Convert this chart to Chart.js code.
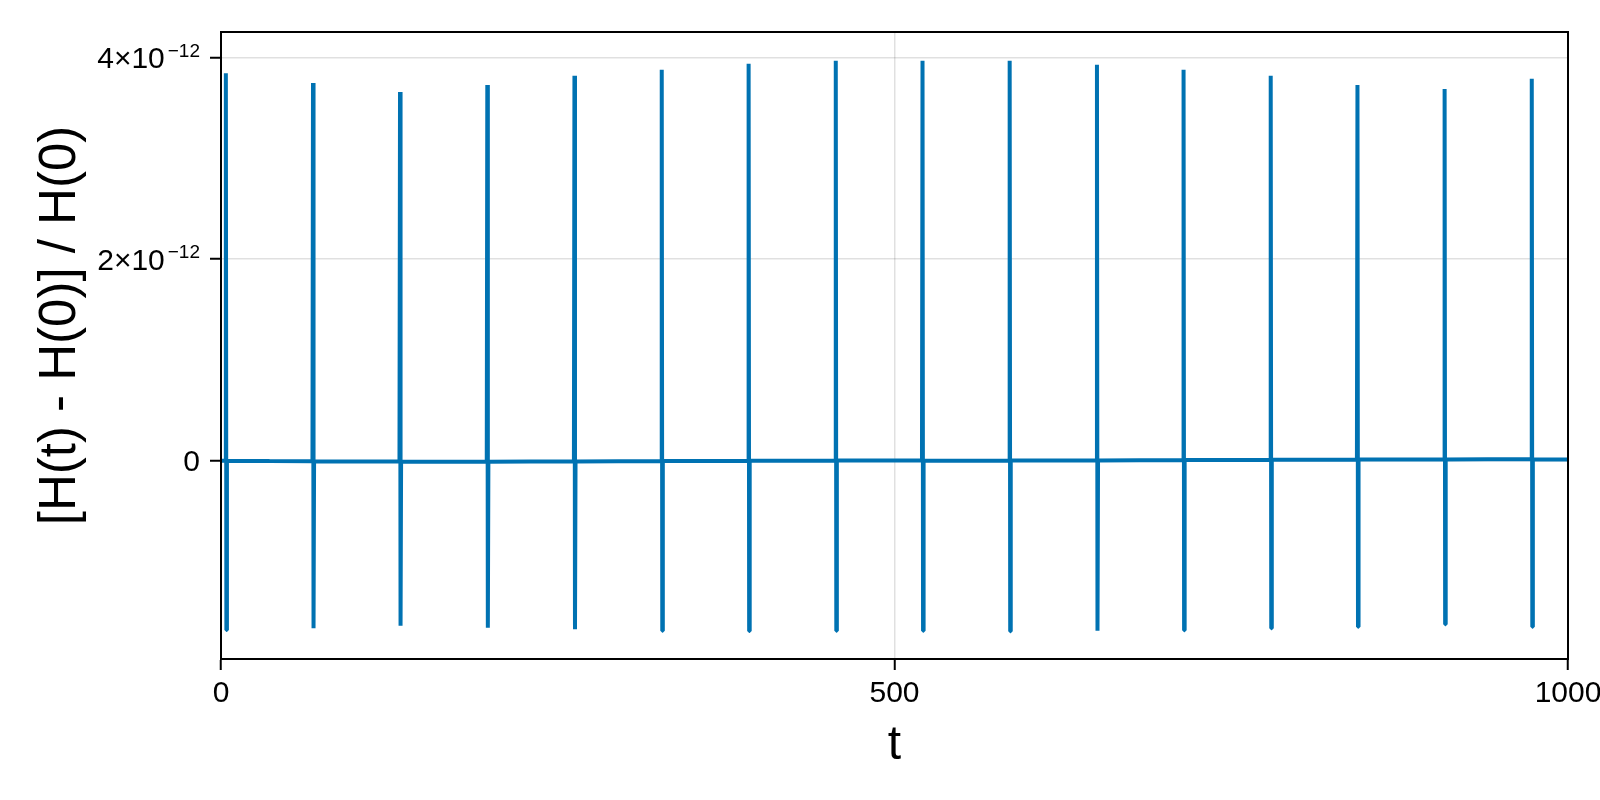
<!DOCTYPE html>
<html>
<head>
<meta charset="utf-8">
<script src="https://cdn.jsdelivr.net/npm/chart.js@4"></script>
<style>
  html, body { margin: 0; padding: 0; background: #ffffff; }
  #wrap { width: 1600px; height: 800px; }
</style>
</head>
<body>
<div id="wrap"><canvas id="c" width="1600" height="800"></canvas></div>
<script>
// ---- data (values in units of 1e-12) ----
const SCALE = 1e-12;
const spikeT      = [3.6, 68.3, 132.9, 197.7, 262.4, 327.2, 391.7, 456.4, 520.8, 585.5, 650.3, 714.6, 779.3, 843.7, 908.4, 973.1];
const spikePeak   = [3.845, 3.75, 3.66, 3.73, 3.82, 3.88, 3.94, 3.97, 3.97, 3.97, 3.93, 3.88, 3.82, 3.73, 3.69, 3.79];
const spikeTrough = [-1.680, -1.663, -1.637, -1.657, -1.673, -1.687, -1.690, -1.687, -1.687, -1.693, -1.687, -1.683, -1.663, -1.647, -1.623, -1.647];
const spikeBase   = [0.0, -0.005, -0.009, -0.010, -0.007, -0.004, -0.001, 0.001, 0.001, 0.001, 0.003, 0.006, 0.009, 0.011, 0.013, 0.014];
const baseT = [0, 36, 100, 165, 230, 295, 359, 424, 488, 553, 618, 682, 747, 811, 876, 940, 1000];
const baseV = [0, -0.003, -0.008, -0.010, -0.008, -0.005, -0.002, 0.0, 0.002, 0.0, 0.002, 0.005, 0.008, 0.010, 0.012, 0.014, 0.012];

const xTicks = [0, 500, 1000];
const xTickLabels = ['0', '500', '1000'];
const yTicks = [0, 2e-12, 4e-12];
const yTickBase = ['0', '2×10', '4×10'];
const yTickExp  = ['', '−12', '−12'];
const xTitle = 't';
const yTitle = '[H(t) - H(0)] / H(0)';
const xRange = [0, 1000];
const yRange = [-1.968e-12, 4.255e-12];

// ---- build point table from the arrays ----
const pts = [];
baseT.forEach((t, i) => pts.push({ x: t, y: baseV[i] * SCALE }));
spikeT.forEach((t, i) => {
  pts.push({ x: t - 0.4, y: spikeBase[i] * SCALE });
  pts.push({ x: t,       y: spikePeak[i] * SCALE });
  pts.push({ x: t + 0.4, y: spikeTrough[i] * SCALE });
  pts.push({ x: t + 0.8, y: spikeBase[i] * SCALE });
});
pts.sort((a, b) => a.x - b.x);

const FONT = '"Liberation Sans", Arial, Helvetica, sans-serif';
const TICK_SIZE = 30;
const EXP_SIZE = 19;
const YTITLE_SIZE = 51;

// frame on all four sides, y tick labels with real superscripts, y title
const frame = {
  id: 'frame',
  afterDraw(chart) {
    const { ctx, chartArea: a } = chart;
    const ys = chart.scales.y;
    ctx.save();
    ctx.strokeStyle = '#000';
    ctx.lineWidth = 2;
    ctx.strokeRect(a.left, a.top, a.right - a.left, a.bottom - a.top);
    ctx.fillStyle = '#000';
    ctx.textBaseline = 'alphabetic';
    ctx.textAlign = 'right';
    const rightX = a.left - 11 - 10;
    yTicks.forEach((v, i) => {
      const py = ys.getPixelForValue(v);
      let x = rightX;
      if (yTickExp[i]) {
        ctx.font = EXP_SIZE + 'px ' + FONT;
        ctx.fillText(yTickExp[i], x, py - 1);
        x -= ctx.measureText(yTickExp[i]).width + 3;
      }
      ctx.font = TICK_SIZE + 'px ' + FONT;
      ctx.fillText(yTickBase[i], x, py + 0.358 * TICK_SIZE);
    });
    // y axis title
    ctx.translate(61, (a.top + a.bottom) / 2 - 20);
    ctx.rotate(-Math.PI / 2);
    ctx.textAlign = 'center';
    ctx.textBaseline = 'middle';
    ctx.font = YTITLE_SIZE + 'px ' + FONT;
    ctx.fillText(yTitle, 0, 0);
    ctx.restore();
  }
};

new Chart(document.getElementById('c'), {
  type: 'line',
  data: {
    datasets: [{
      data: pts,
      borderColor: '#0072B2',
      borderWidth: 4,
      pointRadius: 0,
      tension: 0,
      fill: false,
      borderJoinStyle: 'bevel'
    }]
  },
  plugins: [frame],
  options: {
    responsive: false,
    animation: false,
    events: [],
    layout: { padding: { top: 32, right: 32, left: 0, bottom: 0 } },
    plugins: { legend: { display: false }, tooltip: { enabled: false } },
    scales: {
      x: {
        type: 'linear',
        min: xRange[0], max: xRange[1],
        afterBuildTicks: s => { s.ticks = xTicks.map(v => ({ value: v })); },
        afterFit: s => { s.height = 141; s.paddingLeft = 0; s.paddingRight = 0; },
        ticks: {
          maxRotation: 0, minRotation: 0, autoSkip: false,
          padding: 6,
          color: '#000',
          font: { family: FONT, size: TICK_SIZE },
          callback: (v) => { const i = xTicks.indexOf(v); return i >= 0 ? xTickLabels[i] : ''; }
        },
        grid: { color: 'rgba(0,0,0,0.12)', lineWidth: 1.5, tickLength: 11, tickColor: '#000', tickWidth: 2, drawTicks: true },
        border: { display: true, color: '#000', width: 2 },
        title: { display: true, text: xTitle, color: '#000', font: { family: FONT, size: 48 }, padding: { top: 25, bottom: 25 } }
      },
      y: {
        type: 'linear',
        min: yRange[0], max: yRange[1],
        afterBuildTicks: s => { s.ticks = yTicks.map(v => ({ value: v })); },
        afterFit: s => { s.width = 221; s.paddingTop = 0; s.paddingBottom = 0; },
        ticks: { display: false },
        grid: { color: 'rgba(0,0,0,0.12)', lineWidth: 1.5, tickLength: 11, tickColor: '#000', tickWidth: 2, drawTicks: true },
        border: { display: true, color: '#000', width: 2 },
        title: { display: false, text: yTitle }
      }
    }
  }
});
</script>
</body>
</html>
